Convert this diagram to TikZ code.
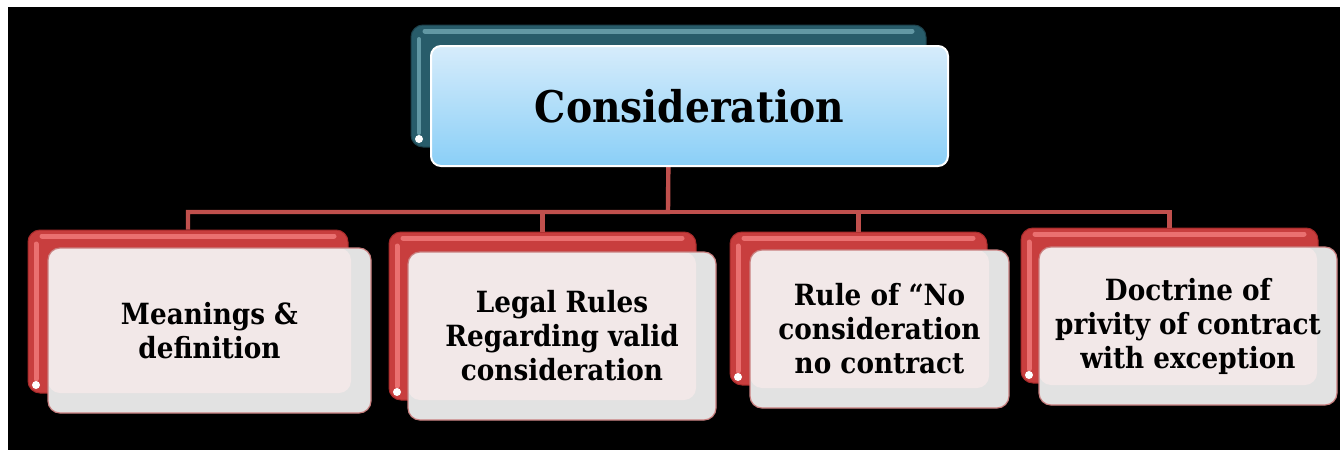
\documentclass[tikz,border=0pt]{standalone}
\usepackage{fontspec}
\setmainfont{DejaVu Serif Condensed}
\usepackage{xcolor}
\usetikzlibrary{fit}

\definecolor{redbody}{RGB}{200,62,62}
\definecolor{redhi}{RGB}{234,112,112}
\definecolor{reddark}{RGB}{165,42,42}
\definecolor{tealbody}{RGB}{40,92,106}
\definecolor{tealhi}{RGB}{98,152,164}
\definecolor{bluetop}{RGB}{214,236,251}
\definecolor{bluebot}{RGB}{138,207,247}
\definecolor{pinkin}{RGB}{242,232,232}
\definecolor{greyband}{RGB}{226,226,226}
\definecolor{linkred}{RGB}{192,80,77}

\tikzset{
  redback/.style={fill=redbody, draw=reddark, line width=0.5pt, rounded corners=6pt, inner sep=0pt,
    path picture={
      \draw[redhi, line width=2.5pt, line cap=round] ([xshift=7pt,yshift=-3pt]path picture bounding box.north west) -- ([xshift=-7pt,yshift=-3pt]path picture bounding box.north east);
      \draw[redhi, line width=2.5pt, line cap=round] ([xshift=4pt,yshift=-7pt]path picture bounding box.north west) -- ([xshift=4pt,yshift=7pt]path picture bounding box.south west);
      \fill[white] ([xshift=4pt,yshift=4pt]path picture bounding box.south west) circle (2pt);
    }},
  tealback/.style={fill=tealbody, draw=tealbody!70!black, line width=0.5pt, rounded corners=6pt, inner sep=0pt,
    path picture={
      \draw[tealhi, line width=2.5pt, line cap=round] ([xshift=7pt,yshift=-3pt]path picture bounding box.north west) -- ([xshift=-7pt,yshift=-3pt]path picture bounding box.north east);
      \draw[tealhi, line width=2pt, line cap=round] ([xshift=4pt,yshift=-7pt]path picture bounding box.north west) -- ([xshift=4pt,yshift=7pt]path picture bounding box.south west);
      \fill[white] ([xshift=4pt,yshift=4pt]path picture bounding box.south west) circle (2pt);
    }},
  topbox/.style={top color=bluetop, bottom color=bluebot, draw=white, line width=1pt, rounded corners=5pt, inner sep=0pt},
  toptext/.style={inner sep=0pt, font=\bfseries\fontsize{21.8}{26}\selectfont},
  itembox/.style={fill=greyband, draw=reddark!60!white, line width=0.6pt, rounded corners=6pt, inner sep=0pt,
    path picture={
      \fill[pinkin, rounded corners=6pt] (path picture bounding box.north west) rectangle ([xshift=-10pt,yshift=10pt]path picture bounding box.south east);
    }},
  itemtext/.style={inner sep=0pt, align=center, font=\bfseries\fontsize{14.6}{17}\selectfont},
  link/.style={linkred, line width=2.2pt}
}

\begin{document}
\begin{tikzpicture}[x=0.5pt,y=-0.5pt]
\useasboundingbox (0,0) rectangle (1340,450);
\fill[white] (0,0) rectangle (1340,450);
\fill[black] (8,7) rectangle (1340,450);
% back boxes
\node[tealback, fit={(411,25) (926,147)}] (consback) {};
\node[redback, fit={(28,230) (348,393)}] (meanback) {};
\node[redback, fit={(389,232) (696,400)}] (legalback) {};
\node[redback, fit={(730,232) (987,385)}] (ruleback) {};
\node[redback, fit={(1021,228) (1318,383)}] (privback) {};
% connectors
\coordinate (bus) at (668,212);
\draw[link] (consback.south) -- (bus) -| (meanback.north);
\draw[link] (bus) -| (legalback.north);
\draw[link] (bus) -| (ruleback.north);
\draw[link] (bus) -| (privback.north);
% front boxes
\node[topbox, fit={(431,46) (948,166)}] (cons) {};
\node[itembox, fit={(48,248) (371,413)}] (mean) {};
\node[itembox, fit={(408,252) (716,420)}] (legal) {};
\node[itembox, fit={(750,250) (1009,408)}] (rule) {};
\node[itembox, fit={(1039,247) (1337,405)}] (priv) {};
% texts
\node[toptext] (constext) at (cons) {Consideration};
\node[itemtext] (meantext) at (mean) {Meanings \&\\definition};
\node[itemtext] (legaltext) at (legal) {Legal Rules\\Regarding valid\\consideration};
\node[itemtext] (ruletext) at (rule) {Rule of “No\\consideration\\no contract};
\node[itemtext] (privtext) at (priv) {Doctrine of\\privity of contract\\with exception};
\end{tikzpicture}
\end{document}
